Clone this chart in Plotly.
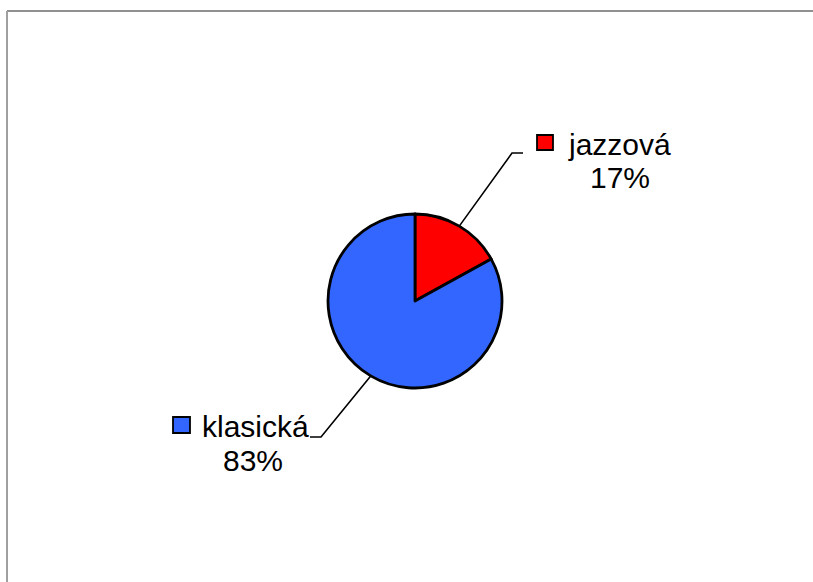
import math
import plotly.graph_objects as go

# ---- data ----
categories = ["jazzová", "klasická"]
values = [17, 83]
percent_labels = ["17%", "83%"]
colors = ["#FF0000", "#3366FF"]

W, H = 813, 582

def px(x):
    return x / W

def py(y):
    return 1 - y / H

# pie geometry (pixels)
cx, cy, r = 415, 301, 87

fig = go.Figure(go.Pie(
    labels=categories,
    values=values,
    marker=dict(colors=colors, line=dict(color="black", width=2.8)),
    textinfo="none",
    hoverinfo="label+percent",
    sort=False,
    direction="clockwise",
    rotation=0,
    showlegend=False,
    domain=dict(x=[px(cx - r), px(cx + r)], y=[py(cy + r), py(cy - r)]),
))

shapes = []
annotations = []

# label layout (pixels): elbow, end of leader, key square, text centers
layout_info = [
    dict(elbow=(512, 153), end=(523, 153), sq=(537, 135, 553, 150),
         name_xy=(619, 144), pct_xy=(620, 177)),
    dict(elbow=(321, 437), end=(310, 437), sq=(173, 417, 190, 433),
         name_xy=(255, 426), pct_xy=(253, 460)),
]

FONT = dict(family="Liberation Sans, Arial", size=30, color="black")

total = sum(values)
cum = 0
for i, v in enumerate(values):
    mid = (cum + v / 2) / total * 2 * math.pi
    cum += v
    sx = cx + r * math.sin(mid)
    sy = cy - r * math.cos(mid)
    info = layout_info[i]
    ex, ey = info["elbow"]
    tx, ty = info["end"]
    path = f"M {px(sx)},{py(sy)} L {px(ex)},{py(ey)} L {px(tx)},{py(ty)}"
    shapes.append(dict(type="path", xref="paper", yref="paper", path=path,
                       line=dict(color="black", width=1.6)))
    x0, y0, x1, y1 = info["sq"]
    shapes.append(dict(type="rect", xref="paper", yref="paper",
                       x0=px(x0), x1=px(x1), y0=py(y1), y1=py(y0),
                       fillcolor=colors[i], line=dict(color="black", width=1.8)))
    nx, ny = info["name_xy"]
    annotations.append(dict(x=px(nx), y=py(ny), xref="paper", yref="paper",
                            text=categories[i], showarrow=False,
                            xanchor="center", yanchor="middle", font=FONT))
    qx, qy = info["pct_xy"]
    annotations.append(dict(x=px(qx), y=py(qy), xref="paper", yref="paper",
                            text=percent_labels[i], showarrow=False,
                            xanchor="center", yanchor="middle", font=FONT))

# chart frame
shapes.append(dict(type="line", xref="paper", yref="paper",
                   x0=px(7), x1=px(813), y0=py(11), y1=py(11),
                   line=dict(color="#222222", width=1.2)))
shapes.append(dict(type="line", xref="paper", yref="paper",
                   x0=px(7), x1=px(7), y0=py(11), y1=0,
                   line=dict(color="#A0A0A0", width=2)))

fig.update_layout(
    width=W, height=H,
    margin=dict(l=0, r=0, t=0, b=0),
    paper_bgcolor="white",
    plot_bgcolor="white",
    shapes=shapes,
    annotations=annotations,
)

fig.write_html("out.html")
